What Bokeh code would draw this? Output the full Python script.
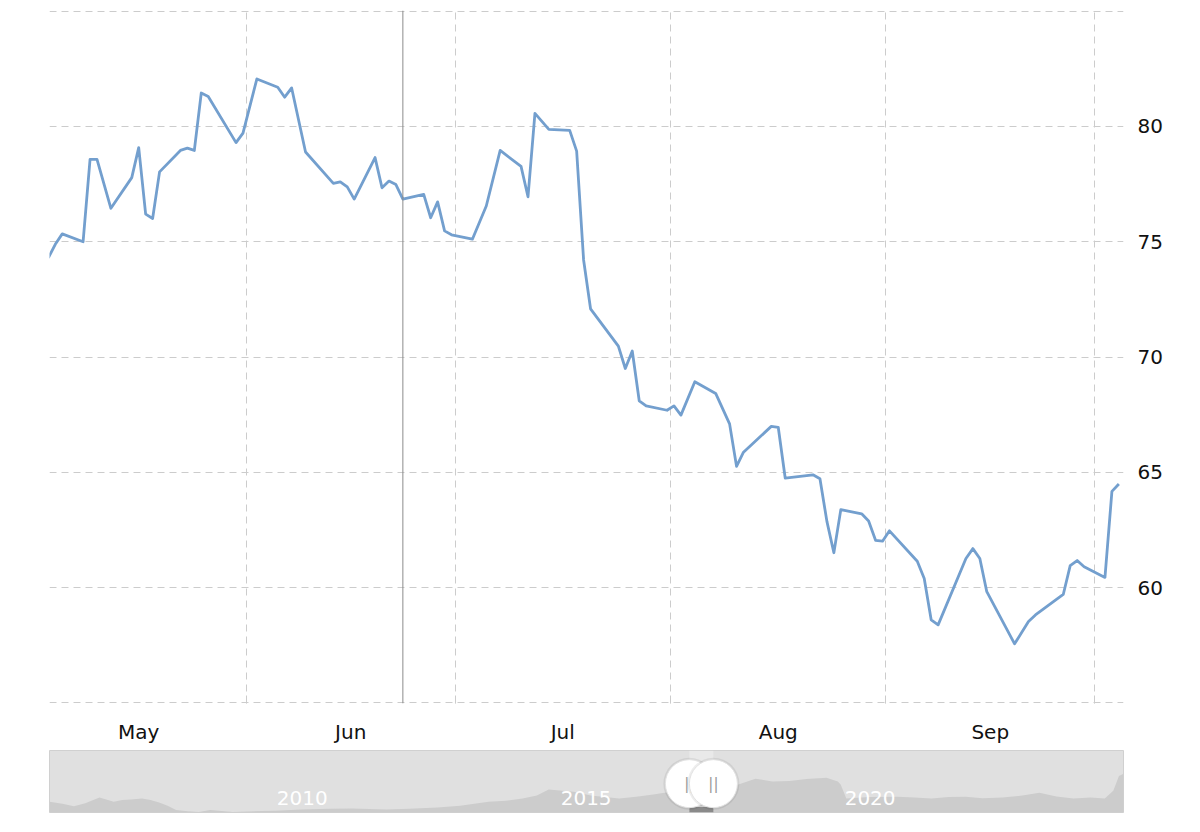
import pandas as pd
from bokeh.core.properties import value
from bokeh.embed import file_html
from bokeh.layouts import column
from bokeh.models import ColumnDataSource, DatetimeTickFormatter, FixedTicker, Range1d, Span
from bokeh.plotting import figure
from bokeh.resources import INLINE

# daily closes, May - Oct 2017
dates = [
    "2017-05-03", "2017-05-04", "2017-05-05", "2017-05-08", "2017-05-09", "2017-05-10",
    "2017-05-12", "2017-05-15", "2017-05-16", "2017-05-17", "2017-05-18", "2017-05-19",
    "2017-05-22", "2017-05-23", "2017-05-24", "2017-05-25", "2017-05-26", "2017-05-30",
    "2017-05-31", "2017-06-02", "2017-06-05", "2017-06-06", "2017-06-07", "2017-06-09",
    "2017-06-13", "2017-06-14", "2017-06-15", "2017-06-16", "2017-06-19", "2017-06-20",
    "2017-06-21", "2017-06-22", "2017-06-23", "2017-06-26", "2017-06-27", "2017-06-28",
    "2017-06-29", "2017-06-30", "2017-07-03", "2017-07-05", "2017-07-07", "2017-07-10",
    "2017-07-11", "2017-07-12", "2017-07-14", "2017-07-17", "2017-07-18", "2017-07-19",
    "2017-07-20", "2017-07-24", "2017-07-25", "2017-07-26", "2017-07-27", "2017-07-28",
    "2017-07-31", "2017-08-01", "2017-08-02", "2017-08-04", "2017-08-07", "2017-08-09",
    "2017-08-10", "2017-08-11", "2017-08-15", "2017-08-16", "2017-08-17", "2017-08-21",
    "2017-08-22", "2017-08-23", "2017-08-24", "2017-08-25", "2017-08-28", "2017-08-29",
    "2017-08-30", "2017-08-31", "2017-09-01", "2017-09-05", "2017-09-06", "2017-09-07",
    "2017-09-08", "2017-09-12", "2017-09-13", "2017-09-14", "2017-09-15", "2017-09-19",
    "2017-09-21", "2017-09-22", "2017-09-26", "2017-09-27", "2017-09-28", "2017-09-29",
    "2017-10-02", "2017-10-03", "2017-10-04",
]
prices = [
    74.30, 74.89, 75.34, 75.00, 78.57, 78.57,
    76.45, 77.78, 79.08, 76.20, 76.01, 78.03,
    78.96, 79.06, 78.96, 81.45, 81.30, 79.30,
    79.71, 82.06, 81.70, 81.27, 81.67, 78.89,
    77.53, 77.60, 77.38, 76.85, 78.65, 77.34,
    77.63, 77.48, 76.85, 77.05, 76.04, 76.73,
    75.47, 75.30, 75.11, 76.55, 78.96, 78.27,
    76.95, 80.57, 79.87, 79.83, 78.93, 74.21,
    72.09, 70.47, 69.50, 70.26, 68.10, 67.88,
    67.69, 67.88, 67.48, 68.93, 68.42, 67.10,
    65.26, 65.87, 66.99, 66.95, 64.75, 64.89,
    64.72, 62.87, 61.51, 63.38, 63.20, 62.89,
    62.05, 62.01, 62.46, 61.14, 60.39, 58.60,
    58.38, 61.26, 61.69, 61.26, 59.82, 57.56,
    58.53, 58.81, 59.70, 60.95, 61.17, 60.90,
    60.44, 64.17, 64.49,
]
hover_date = "2017-06-23"

y_labels = [60, 65, 70, 75, 80]
y_grid = [55, 60, 65, 70, 75, 80, 85]
month_names = ["May", "Jun", "Jul", "Aug", "Sep"]

# long history shown in the navigator (fraction of year, level)
nav_years = [
    2006.07, 2006.3, 2006.5, 2006.7, 2006.95, 2007.1, 2007.2, 2007.35, 2007.5, 2007.7,
    2007.85, 2008.0, 2008.15, 2008.3, 2008.5, 2008.7, 2008.9, 2009.1, 2009.3, 2009.55,
    2009.8, 2010.05, 2010.5, 2011.0, 2011.4, 2011.7, 2012.0, 2012.4, 2012.9, 2013.3,
    2013.8, 2014.1, 2014.4, 2014.65, 2014.86, 2015.1, 2015.3, 2015.6, 2015.85, 2016.1,
    2016.4, 2016.7, 2016.9, 2017.35, 2017.75, 2018.2, 2018.5, 2018.8, 2019.1, 2019.4,
    2019.75, 2019.95, 2020.0, 2020.1, 2020.5, 2021.0, 2021.3, 2021.6, 2021.9, 2022.2,
    2022.5, 2022.85, 2023.2, 2023.5, 2023.8, 2024.1, 2024.4, 2024.65, 2024.8, 2024.9,
    2024.98,
]
nav_values = [
    35, 28, 20, 30, 48, 40, 35, 40, 42, 45,
    40, 32, 22, 8, 4, 2, 8, 5, 2, 3,
    5, 6, 10, 12, 13, 11, 10, 12, 16, 22,
    35, 38, 45, 55, 74, 70, 67, 55, 50, 45,
    51, 58, 64, 70, 77, 90, 109, 100, 102, 108,
    112, 100, 90, 45, 50, 51, 48, 45, 50, 51,
    46, 48, 55, 64, 52, 45, 48, 45, 70, 118,
    125,
]
nav_year_labels = [2010, 2015, 2020]

FONT = "DejaVu Sans"
LINE_COLOR = "#739fce"
GRID_COLOR = "#cccccc"

noon = pd.Timedelta(hours=12)
x = pd.to_datetime(dates) + noon
src = ColumnDataSource(data=dict(x=x, y=prices))

x_start = pd.Timestamp("2017-05-03 16:00")
x_end = pd.Timestamp("2017-10-05 04:00")

# a hair of padding so the 55 and 85 grid lines are not clipped at the frame edge
p = figure(width=1192, height=746, x_axis_type="datetime", y_axis_location="right",
           x_range=Range1d(x_start, x_end), y_range=Range1d(54.97, 85.03),
           output_backend="svg", toolbar_location=None,
           min_border_left=49, min_border_right=69, min_border_top=10, min_border_bottom=42)
p.outline_line_color = None

# month boundaries for grid, month middles for labels
month_starts = pd.date_range("2017-05-01", "2017-11-01", freq="MS")
start_ms = [t.value // 10**6 for t in month_starts]
mid_ms = [(a + b) / 2 for a, b in zip(start_ms[:-1], start_ms[1:])][:len(month_names)]

p.xaxis.ticker = FixedTicker(ticks=mid_ms, minor_ticks=start_ms)
fmt = "%b"
p.xaxis.formatter = DatetimeTickFormatter(days=fmt, months=fmt, years=fmt, hours=fmt,
                                          hourmin=fmt, minutes=fmt)
p.xaxis.axis_line_color = None
p.xaxis.major_tick_line_color = None
p.xaxis.minor_tick_line_color = GRID_COLOR
p.xaxis.minor_tick_in = 8
p.xaxis.minor_tick_out = 0
p.xaxis.major_label_standoff = 10
p.xaxis.major_label_text_font = FONT
p.xaxis.major_label_text_font_size = "20px"
p.xaxis.major_label_text_color = "#111111"

p.yaxis.ticker = FixedTicker(ticks=y_labels)
p.yaxis.axis_line_color = None
p.yaxis.major_tick_line_color = None
p.yaxis.minor_tick_line_color = None
p.yaxis.major_label_standoff = 8
p.yaxis.major_label_text_font = FONT
p.yaxis.major_label_text_font_size = "20px"
p.yaxis.major_label_text_color = "#111111"

p.xgrid.ticker = FixedTicker(ticks=start_ms)
p.ygrid.ticker = FixedTicker(ticks=y_grid)
for g in (p.xgrid, p.ygrid):
    g.grid_line_color = GRID_COLOR
    g.grid_line_dash = "7 5"
    g.grid_line_width = 1

p.line("x", "y", source=src, line_color=LINE_COLOR, line_width=2.8, line_join="round")

# crosshair at the hovered day
p.add_layout(Span(location=pd.Timestamp(hover_date) + noon, dimension="height",
                  line_color="#8c8c8c", line_width=1))


def frac_year(ts):
    days = 366 if ts.is_leap_year else 365
    return ts.year + (ts.dayofyear - 1 + ts.hour / 24) / days


nav = figure(width=1192, height=70, x_range=Range1d(nav_years[0], nav_years[-1]),
             y_range=Range1d(0, 200), x_axis_location=None, y_axis_location=None,
             output_backend="svg", toolbar_location=None,
             min_border_left=49, min_border_right=69, min_border_top=4, min_border_bottom=4)
nav.background_fill_color = "#e0e0e0"
nav.outline_line_color = "#d0d0d0"
nav.grid.visible = False

nav.varea(x=nav_years, y1=0, y2=nav_values, fill_color="#cccccc")

sel_left = frac_year(x_start)
sel_right = frac_year(x_end)
nav.quad(left=[sel_left], right=[sel_right], bottom=[0], top=[200],
         fill_color="#ffffff", fill_alpha=0.3, line_color=None)
nav.quad(left=[sel_left], right=[sel_right], bottom=[0], top=[18],
         fill_color="#8a8a8a", line_color=None)

nav.text(x=nav_year_labels, y=[0] * len(nav_year_labels),
         text=[str(v) for v in nav_year_labels], x_offset=4, y_offset=-15,
         text_font=value(FONT), text_font_size="20px", text_color="#ffffff",
         text_baseline="middle", text_align="left")

# the two range handles
for hx in (sel_left, sel_right):
    nav.scatter(x=[hx], y=[93], size=52, marker="circle", fill_color="#000000",
                fill_alpha=0.07, line_color=None)
    nav.scatter(x=[hx], y=[93], size=48, marker="circle", fill_color="#ffffff",
                line_color="#e2e2e2", line_width=1)
    nav.text(x=[hx], y=[93], text=["||"], text_font=value(FONT), text_font_size="15px",
             text_color="#9a9a9a", text_align="center", text_baseline="middle")

layout = column(p, nav, spacing=0)
open("out.html", "w").write(file_html(layout, INLINE))
